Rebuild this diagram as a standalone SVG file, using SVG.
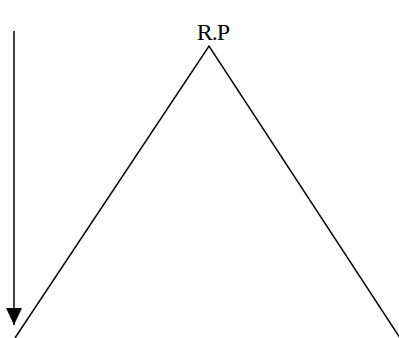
<svg xmlns="http://www.w3.org/2000/svg" width="399" height="338" viewBox="0 0 399 338">
<style>
.ln{stroke:#000;stroke-width:1.5;fill:none}
.lbl{font-family:"Liberation Serif","Times New Roman",serif;font-size:24px;fill:#000;letter-spacing:-1px}
</style>
<defs>
<marker id="ah" markerUnits="userSpaceOnUse" markerWidth="18" markerHeight="18" refX="17" refY="8" orient="auto">
<path d="M0,0 L17,8 L0,16 Z" fill="#000"/>
</marker>
</defs>
<rect width="399" height="338" fill="#fff"/>
<g id="connectors">
<line class="ln" x1="14" y1="31" x2="14" y2="325" marker-end="url(#ah)"/>
<polyline class="ln" points="15,338 209,46 400,338"/>
</g>
<g id="label-rp">
<text class="lbl" x="213" y="40" text-anchor="middle">R.P</text>
</g>
</svg>
